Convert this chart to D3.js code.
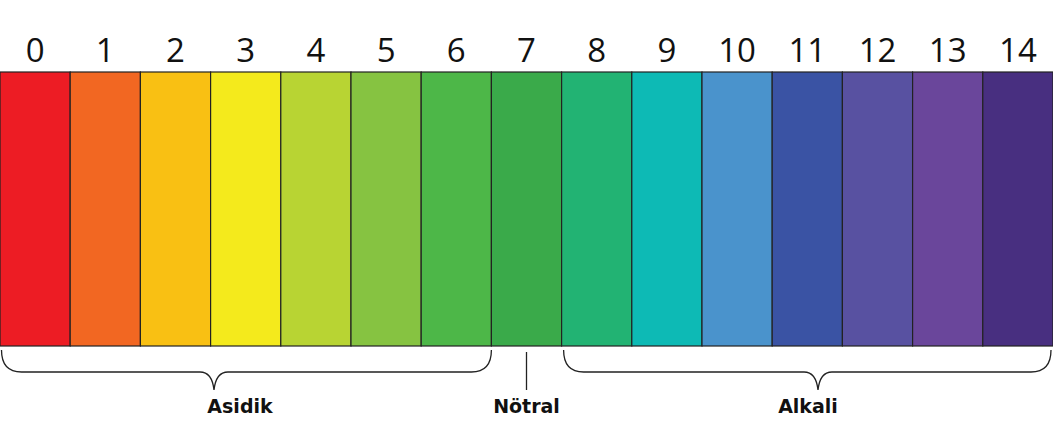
<!DOCTYPE html>
<html><head><meta charset="utf-8">
<script src="https://cdn.jsdelivr.net/npm/d3@7"></script>
<style>body{margin:0;background:#fff}</style></head>
<body><svg id="c" width="1053" height="422"></svg>
<script>
const phValues = d3.range(0, 15);
const phColors = ["#ed1c24","#f26722","#f9c013","#f4ea1c","#b8d433","#86c341","#4db748","#3aaa4a","#22b373","#0dbab5","#4a93cc","#3a53a4","#5851a1","#6a469b","#482f80"];
const groups = [
  {label: "Asidik", from: 0, to: 7, tip: 214, text: 240},
  {label: "Alkali", from: 8, to: 15, tip: 818, text: 808}
];
const neutral = {label: "Nötral", at: 7.5};

const svg = d3.select("#c");
const xl = d3.scaleLinear().domain([0, 15]).range([0, 1053]);
const barTop = 72, barBottom = 346;

svg.selectAll("rect").data(phValues).join("rect")
  .attr("x", d => xl(d)).attr("y", barTop)
  .attr("width", xl(1) - xl(0)).attr("height", barBottom - barTop)
  .attr("fill", (d, i) => phColors[i])
  .attr("stroke", "#222").attr("stroke-width", 1.2);

svg.selectAll("text.num").data(phValues).join("text")
  .attr("class", "num")
  .attr("x", d => xl(d + 0.5)).attr("y", 62)
  .attr("text-anchor", "middle")
  .attr("font-family", "Open Sans, sans-serif").attr("font-size", 33)
  .attr("fill", "#111").text(d => d);

function brace(x0, x1, tip) {
  const y0 = 350, y1 = 372, y2 = 390, r = 10;
  return `M${x0},${y0} Q${x0},${y1} ${x0 + r*2},${y1} L${tip - 14},${y1} Q${tip - 2},${y1} ${tip},${y2}` +
    ` Q${tip + 2},${y1} ${tip + 14},${y1} L${x1 - r*2},${y1} Q${x1},${y1} ${x1},${y0}`;
}

groups.forEach(g => {
  const x0 = Math.max(1.5, xl(g.from) + (g.from ? 2 : 0)), x1 = Math.min(1051, xl(g.to) - (g.to === 15 ? 2 : 0));
  svg.append("path").attr("d", brace(x0, x1, g.tip))
    .attr("fill", "none").attr("stroke", "#222").attr("stroke-width", 1.3);
  svg.append("text").attr("x", g.text).attr("y", 413).attr("text-anchor", "middle")
    .attr("font-family", "DejaVu Sans, sans-serif").attr("font-weight", "bold").attr("font-size", 19)
    .attr("fill", "#111").text(g.label);
});

svg.append("line").attr("x1", xl(neutral.at)).attr("x2", xl(neutral.at))
  .attr("y1", 352).attr("y2", 390).attr("stroke", "#222").attr("stroke-width", 1.3);
svg.append("text").attr("x", xl(neutral.at)).attr("y", 413).attr("text-anchor", "middle")
  .attr("font-family", "DejaVu Sans, sans-serif").attr("font-weight", "bold").attr("font-size", 19)
  .attr("fill", "#111").text(neutral.label);
</script></body></html>
